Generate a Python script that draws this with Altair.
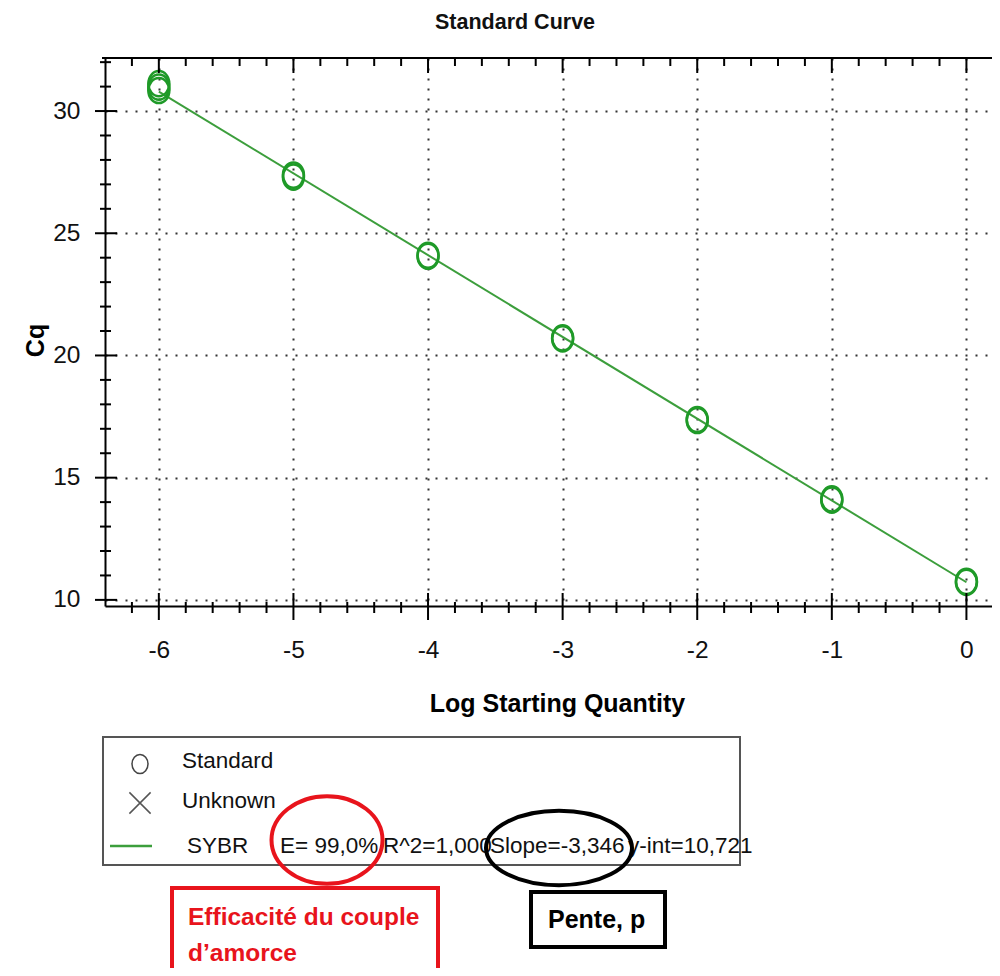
import altair as alt
import pandas as pd

# ---------------- data ----------------
std_log_qty = [-6, -6, -6, -5, -5, -4, -4, -3, -3, -2, -2, -1, -1, 0, 0]
std_cq = [31.12, 30.98, 30.84, 27.30, 27.38, 24.06, 24.10, 20.68, 20.72,
          17.34, 17.38, 14.08, 14.13, 10.72, 10.76]
fit_log_qty = [-6, 0]
fit_cq = [30.797, 10.721]

x_major = [-6, -5, -4, -3, -2, -1, 0]
y_major = [10, 15, 20, 25, 30]
x_minor = [-6.2, -5.8, -5.6, -5.4, -5.2, -4.8, -4.6, -4.4, -4.2, -3.8, -3.6, -3.4, -3.2,
           -2.8, -2.6, -2.4, -2.2, -1.8, -1.6, -1.4, -1.2, -0.8, -0.6, -0.4, -0.2]
y_minor = [11, 12, 13, 14, 16, 17, 18, 19, 21, 22, 23, 24, 26, 27, 28, 29, 31, 32]
x_domain = [-6.4, 0.19]
y_domain = [9.75, 32.17]

chart_title = "Standard Curve"
x_title = "Log Starting Quantity"
y_title = "Cq"
legend_labels = ["Standard", "Unknown"]
series_name = "SYBR"
fit_stats = ["E= 99,0%", "R^2=1,000", "Slope=-3,346", "y-int=10,721"]
note_eff = ["Efficacité du couple", "d’amorce"]
note_slope = "Pente, p"

# ---------------- styling ----------------
W, H = 887, 548
FONT = "Liberation Sans, Arial, sans-serif"
GREEN = "#1f9a28"
LINE_GREEN = "#3c9e3c"
ELLIPSE = "M-1,0A1,1.2,0,1,1,1,0A1,1.2,0,1,1,-1,0Z"
DUMMY = alt.Data(values=[{"a": 1}])

xs = alt.Scale(domain=x_domain, nice=False, zero=False)
ys = alt.Scale(domain=y_domain, nice=False, zero=False)

df_std = pd.DataFrame({"logq": std_log_qty, "cq": std_cq})
df_fit = pd.DataFrame({"logq": fit_log_qty, "cq": fit_cq})
df_xmaj = pd.DataFrame({"logq": x_major})
df_xmin = pd.DataFrame({"logq": x_minor})
df_ymaj = pd.DataFrame({"cq": y_major})
df_ymin = pd.DataFrame({"cq": y_minor})

x_axis = alt.Axis(
    values=x_major, grid=True, gridDash=[2, 8], gridColor="#333", gridWidth=2,
    ticks=False, tickSize=0, domain=True, domainColor="black", domainWidth=2,
    labelFont=FONT, labelFontSize=24.5, labelColor="#111", labelPadding=44,
    labelBaseline="middle", labelFlush=False, labelOverlap=False,
    labelExpr="datum.value + ''",
    title=x_title, titleFont=FONT, titleFontSize=25, titleFontWeight="bold",
    titleColor="black", titleX=452, titleY=97, titleBaseline="middle", titleAlign="center",
)
y_axis = alt.Axis(
    values=y_major, grid=True, gridDash=[2, 8], gridColor="#333", gridWidth=2,
    ticks=False, tickSize=0, domain=True, domainColor="black", domainWidth=2,
    labelFont=FONT, labelFontSize=24.5, labelColor="#111", labelPadding=25,
    labelFlush=False, labelOverlap=False,
    title=y_title, titleFont=FONT, titleFontSize=25, titleFontWeight="bold",
    titleColor="black", titleX=-70, titleY=282, titleAngle=270,
    titleBaseline="middle", titleAlign="center",
)

X = alt.X("logq:Q", scale=xs, axis=x_axis)
Y = alt.Y("cq:Q", scale=ys, axis=y_axis)

fit_line = alt.Chart(df_fit).mark_line(color=LINE_GREEN, strokeWidth=2).encode(x=X, y=Y)
points = alt.Chart(df_std).mark_point(
    shape=ELLIPSE, filled=False, size=441, strokeWidth=2.5, color=GREEN, opacity=1
).encode(x=X, y=Y)


def xtick(df, y1, y2):
    return alt.Chart(df).mark_rule(color="black", strokeWidth=2).encode(
        x=X, y=alt.value(y1), y2=alt.value(y2))


def ytick(df, x1, x2):
    return alt.Chart(df).mark_rule(color="black", strokeWidth=2).encode(
        y=Y, x=alt.value(x1), x2=alt.value(x2))


top_line = alt.Chart(DUMMY).mark_rule(color="black", strokeWidth=2).encode(
    x=alt.value(-3), x2=alt.value(W), y=alt.value(0))

ticks = [
    xtick(df_xmin, H - 4, H + 7), xtick(df_xmaj, H - 13, H + 14),
    xtick(df_xmin, 0, 8), xtick(df_xmaj, 0, 15),
    ytick(df_ymin, -5, 6), ytick(df_ymaj, -10, 12),
]


def txt(s, x, y, size, weight="normal", color="#111", align="left"):
    return alt.Chart(DUMMY).mark_text(
        text=s, font=FONT, fontSize=size, fontWeight=weight, color=color,
        align=align, baseline="middle").encode(x=alt.value(x), y=alt.value(y))


title = txt(chart_title, 410, -35, 21.5, "bold", "#111", "center")

legend_box = alt.Chart(DUMMY).mark_rect(fill="white", stroke="#555", strokeWidth=2).encode(
    x=alt.value(-2), x2=alt.value(635), y=alt.value(679), y2=alt.value(807))
sym_std = alt.Chart(DUMMY).mark_point(
    shape=ELLIPSE, filled=False, size=256, strokeWidth=1.5, color="#444", opacity=1
).encode(x=alt.value(35), y=alt.value(706))
sym_unk = alt.Chart(DUMMY).mark_point(
    shape="M-1,-1L1,1M-1,1L1,-1", filled=False, size=450, strokeWidth=1.5, color="#555", opacity=1
).encode(x=alt.value(35), y=alt.value(745))
leg_line = alt.Chart(DUMMY).mark_rule(color=LINE_GREEN, strokeWidth=2.5).encode(
    x=alt.value(5), x2=alt.value(47), y=alt.value(788))

legend_texts = [
    txt(legend_labels[0], 77, 703, 22.5),
    txt(legend_labels[1], 77, 743, 22.5),
    txt(series_name, 82, 788, 22.5),
    txt(fit_stats[0], 175, 788, 22.5),
    txt(fit_stats[1], 278, 788, 22.5),
    txt(fit_stats[2], 385, 788, 22.5),
    txt(fit_stats[3], 523, 788, 22.5),
]

red_ellipse = alt.Chart(DUMMY).mark_point(
    shape="M-1,0A1,0.79,0,1,1,1,0A1,0.79,0,1,1,-1,0Z", filled=False, size=12321,
    strokeWidth=4, color="#e8141c", opacity=1
).encode(x=alt.value(222), y=alt.value(782))
black_ellipse = alt.Chart(DUMMY).mark_point(
    shape="M-1,0A1,0.51,0,1,1,1,0A1,0.51,0,1,1,-1,0Z", filled=False, size=21316,
    strokeWidth=4, color="black", opacity=1
).encode(x=alt.value(454), y=alt.value(790))

red_box = alt.Chart(DUMMY).mark_rect(fill="white", stroke="#e8141c", strokeWidth=4).encode(
    x=alt.value(67), x2=alt.value(333), y=alt.value(830), y2=alt.value(930))
black_box = alt.Chart(DUMMY).mark_rect(fill="white", stroke="black", strokeWidth=4).encode(
    x=alt.value(426), x2=alt.value(560), y=alt.value(834), y2=alt.value(889))

notes = [
    txt(note_eff[0], 83, 860, 24.5, "bold", "#e8141c"),
    txt(note_eff[1], 83, 896, 24.5, "bold", "#e8141c"),
    txt(note_slope, 443, 862, 25, "bold", "black"),
]

chart = alt.layer(
    fit_line, points, *ticks, top_line, title,
    legend_box, sym_std, sym_unk, leg_line, *legend_texts,
    red_ellipse, black_ellipse, red_box, black_box, *notes,
).properties(
    width=W, height=H,
    padding={"left": 97, "top": 50, "right": 0, "bottom": 362},
    autosize=alt.AutoSizeParams(type="none"),
    background="white",
).configure_view(stroke=None)

chart.save("out.html", embed_options={"renderer": "svg", "actions": False})
